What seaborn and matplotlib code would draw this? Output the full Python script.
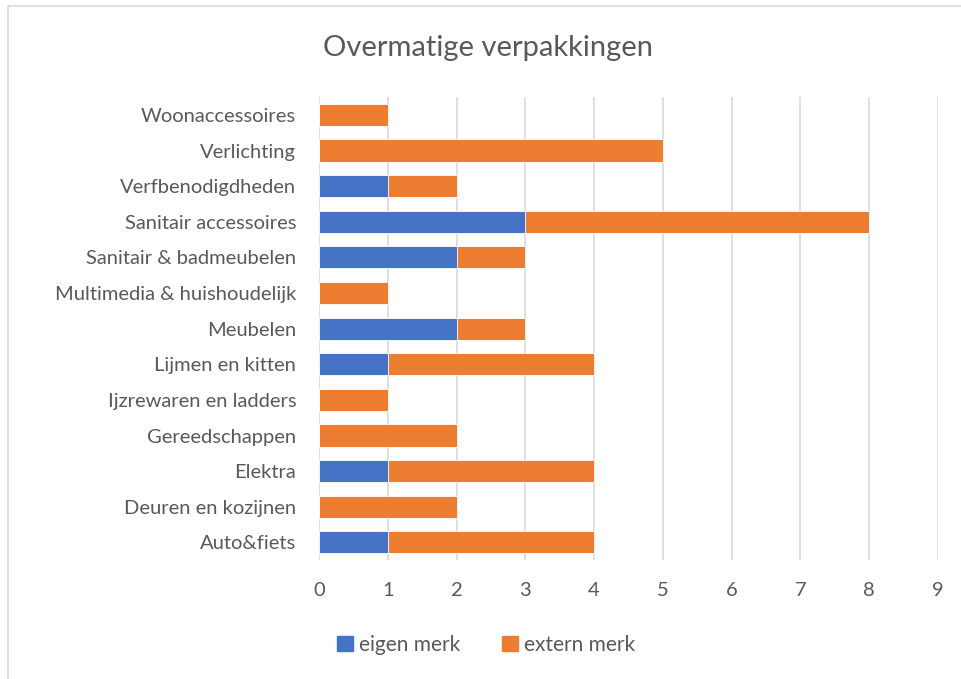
import numpy as np
import pandas as pd
import seaborn as sns
import matplotlib.pyplot as plt
from matplotlib.patches import Patch, Rectangle

categories = ['Woonaccessoires', 'Verlichting', 'Verfbenodigdheden', 'Sanitair accessoires',
              'Sanitair & badmeubelen', 'Multimedia & huishoudelijk', 'Meubelen',
              'Lijmen en kitten', 'Ijzrewaren en ladders', 'Gereedschappen', 'Elektra',
              'Deuren en kozijnen', 'Auto&fiets']
eigen_merk = [0, 0, 1, 3, 2, 0, 2, 1, 0, 0, 1, 0, 1]
extern_merk = [1, 5, 1, 5, 1, 1, 1, 3, 1, 2, 3, 2, 3]

blue = '#4472C4'
orange = '#ED7D31'
grey = '#595959'

df = pd.DataFrame({'cat': categories, 'eigen': eigen_merk, 'extern': extern_merk})
df['totaal'] = df['eigen'] + df['extern']

sns.set_style('white')
plt.rcParams['font.family'] = ['Lato', 'DejaVu Sans']

fig = plt.figure(figsize=(9.61, 6.79), dpi=100)
ax = fig.add_axes([0.332, 0.175, 0.644, 0.682])

sns.barplot(data=df, x='totaal', y='cat', order=categories, color=orange,
            width=0.62, saturation=1, edgecolor='white', linewidth=0.6, ax=ax, zorder=3)
sns.barplot(data=df, x='eigen', y='cat', order=categories, color=blue,
            width=0.62, saturation=1, edgecolor='white', linewidth=0.6, ax=ax, zorder=4)

ax.set_xlim(0, 9)
ax.set_ylim(12.5, -0.5)
ax.set_xticks(range(10))
ax.grid(axis='x', color='#D9D9D9', linewidth=1.2, zorder=0)
ax.set_axisbelow(True)
for s in ax.spines.values():
    s.set_visible(False)
ax.set_xlabel('')
ax.set_ylabel('')
ax.tick_params(axis='both', length=0, colors=grey, labelsize=14.5)
ax.tick_params(axis='x', pad=16)
ax.tick_params(axis='y', pad=16.5)

fig.text(0.508, 0.93, 'Overmatige verpakkingen', ha='center', va='center',
         fontsize=21, color=grey)

handles = [Patch(color=blue, label='eigen merk'), Patch(color=orange, label='extern merk')]
fig.legend(handles=handles, loc='center', bbox_to_anchor=(0.506, 0.05), ncol=2,
           frameon=False, fontsize=15, labelcolor=grey, handlelength=0.75,
           handleheight=0.75, handletextpad=0.3, columnspacing=2.0)

fig.patches.append(Rectangle((8 / 961, -0.05), 1.2, 1 - 6 / 679 + 0.05,
                             transform=fig.transFigure, fill=False,
                             edgecolor='#D9D9D9', linewidth=1.2))

fig.savefig('out.png', dpi=100)
